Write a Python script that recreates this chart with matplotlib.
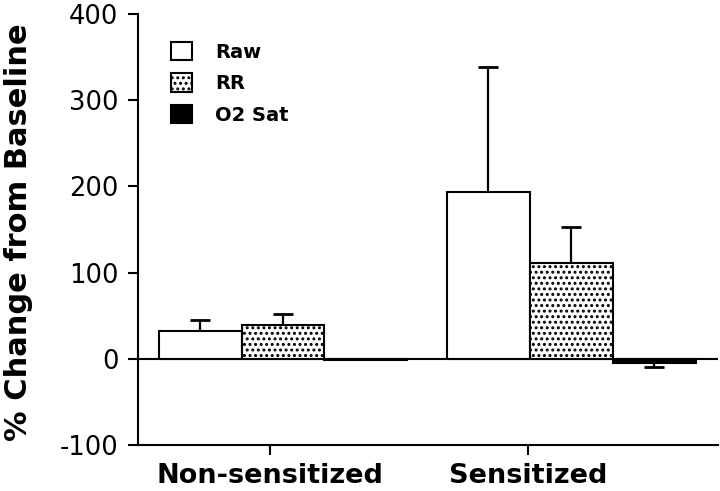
import matplotlib
matplotlib.use('Agg')
import matplotlib.pyplot as plt
import numpy as np

groups = ['Non-sensitized', 'Sensitized']
series = ['Raw', 'RR', 'O2 Sat']
raw = [32.5, 193]
rr = [39.5, 111]
o2 = [-1.2, -5]
raw_err = [12.5, 145]
rr_err = [12.5, 42]
o2_err = [0, 4]

plt.rcParams['font.family'] = 'DejaVu Sans'
plt.rcParams['axes.unicode_minus'] = False
plt.rcParams['hatch.linewidth'] = 1.4

fig = plt.figure(figsize=(7.2, 4.91), dpi=100)
ax = fig.add_axes([138/720, 1-445/491, 580/720, 431/491])

centers = np.array([1.75, 5.23])
tick_pos = [1.59, 4.71]
w = 1.0
vals = [raw, rr, o2]
errs = [raw_err, rr_err, o2_err]
fills = ['white', 'white', 'black']
hatches = [None, '...', None]

ax.axhline(0, color='black', lw=1.5, zorder=1)
handles = []
for i in range(3):
    x = centers + (i-1)*w
    b = ax.bar(x, vals[i], width=w, color=fills[i], edgecolor='black',
               linewidth=1.5, hatch=hatches[i], zorder=2, label=series[i])
    handles.append(b)
    v = np.array(vals[i])
    e = np.array(errs[i])
    # one-sided error bars, away from zero
    tip = v + np.sign(v) * e
    keep = e > 0
    ax.vlines(x[keep], v[keep], tip[keep], color='black', lw=1.6, zorder=3)
    ax.plot(x[keep], tip[keep], ls='none', marker='_', ms=14, mew=2,
            color='black', zorder=3)

ax.set_xlim(0, 7)
ax.set_ylim(-100, 400)
ax.set_yticks([-100, 0, 100, 200, 300, 400])
ax.set_xticks(tick_pos)
ax.set_xticklabels(groups, fontsize=19.5, fontweight='bold')
ax.tick_params(axis='y', labelsize=18.5, length=7, width=1.5, pad=7)
ax.tick_params(axis='x', length=7, width=1.5, pad=6)
for s in ['top', 'right']:
    ax.spines[s].set_visible(False)
for s in ['left', 'bottom']:
    ax.spines[s].set_linewidth(1.5)

fig.text(0.026, 1-232/491, '% Change from Baseline', rotation=90,
         ha='center', va='center', fontsize=22, fontweight='bold')

ax.legend(handles=handles, loc='upper left', bbox_to_anchor=(0.057, 0.935),
          frameon=False, borderpad=0, borderaxespad=0,
          prop={'size': 14, 'weight': 'bold'},
          handlelength=1.07, handleheight=1.07, handletextpad=1.2,
          labelspacing=0.6)

fig.savefig('out.png', dpi=100)
